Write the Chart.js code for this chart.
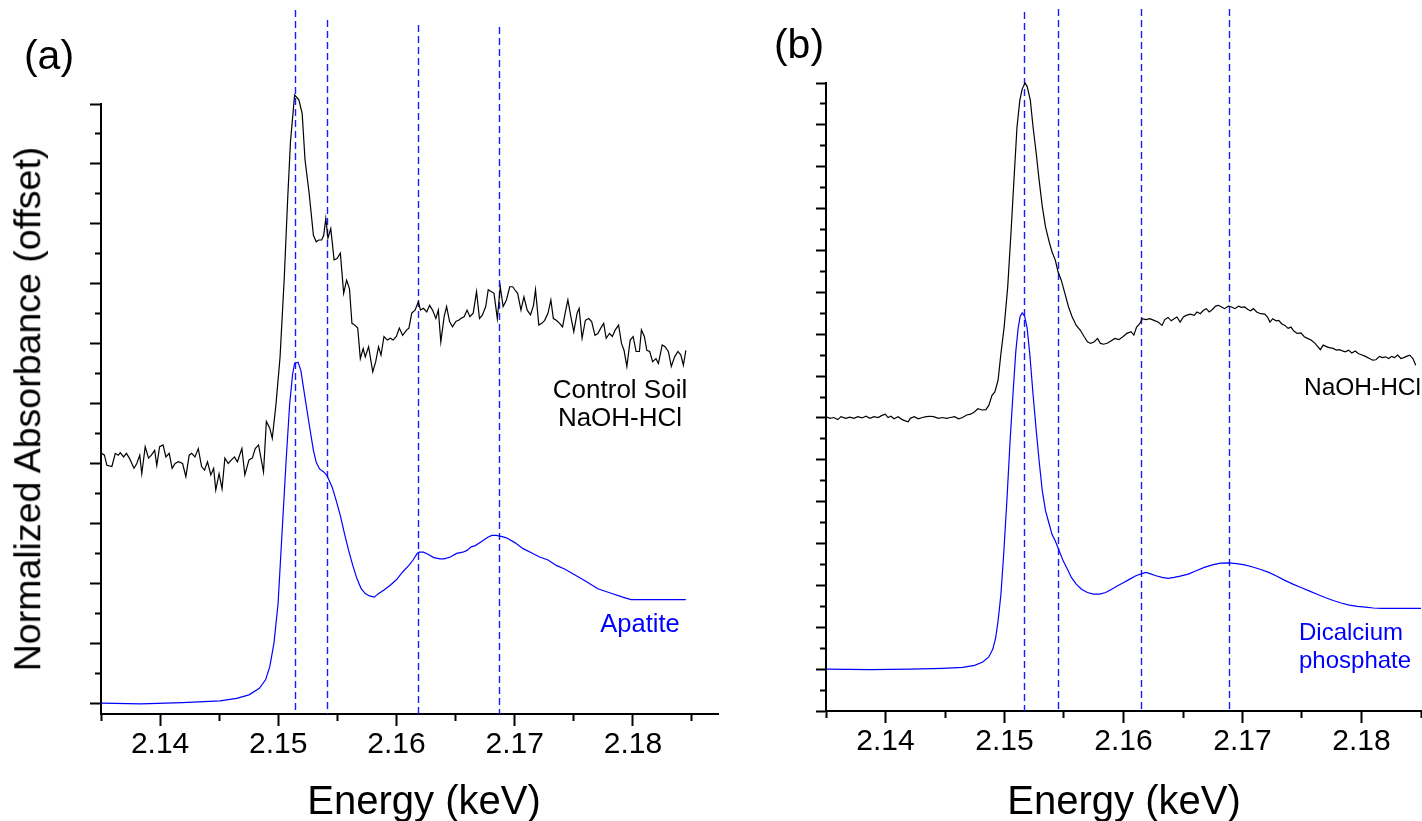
<!DOCTYPE html>
<html>
<head>
<meta charset="utf-8">
<script src="https://cdn.jsdelivr.net/npm/chart.js@4.4.1/dist/chart.umd.min.js"></script>
<style>
  html, body { margin: 0; padding: 0; background: #fff; }
  #wrap { position: relative; width: 1422px; height: 821px; overflow: hidden; }
  canvas { position: absolute; top: 0; }
  #chartA { left: 0; }
  #chartB { left: 720px; }
  .lbl {
    position: absolute;
    font-family: 'Liberation Sans', Arial, sans-serif;
    line-height: 1;
    white-space: nowrap;
    color: #000;
    transform: translate(-50%, -50%);
  }
  .blue { color: #0000ff; }
</style>
</head>
<body>
<div id="wrap">
  <canvas id="chartA" width="720" height="821"></canvas>
  <canvas id="chartB" width="702" height="821"></canvas>

  <div class="lbl" style="left:49px;top:55px;font-size:41px">(a)</div>
  <div class="lbl" style="left:799px;top:44px;font-size:41px">(b)</div>

  <div class="lbl" style="left:28px;top:409px;font-size:37.5px;transform:translate(-50%,-50%) rotate(-90deg)">Normalized Absorbance (offset)</div>
  <div class="lbl" style="left:424px;top:800px;font-size:40px">Energy (keV)</div>
  <div class="lbl" style="left:1124px;top:800px;font-size:40px">Energy (keV)</div>

  <div class="lbl" style="left:620px;top:389px;font-size:26px">Control Soil</div>
  <div class="lbl" style="left:620px;top:417px;font-size:26px">NaOH-HCl</div>
  <div class="lbl blue" style="left:640px;top:624px;font-size:25.5px">Apatite</div>

  <div class="lbl" style="left:1421px;top:387px;font-size:24.5px;transform:translate(-100%,-50%)">NaOH-HCl</div>
  <div class="lbl blue" style="left:1299px;top:632px;font-size:24px;transform:translate(0,-50%)">Dicalcium</div>
  <div class="lbl blue" style="left:1299px;top:660px;font-size:24px;transform:translate(0,-50%)">phosphate</div>
</div>

<script>
// ── (a) Control soil NaOH-HCl extract (offset +4) ──
const soilAEnergy = [2.13505,2.13529,2.13550,2.13592,2.13621,2.13645,2.13663,2.13691,2.13715,2.13740,
  2.13779,2.13803,2.13828,2.13845,2.13874,2.13902,2.13926,2.13954,2.13972,2.13996,
  2.14025,2.14049,2.14077,2.14102,2.14127,2.14155,2.14190,2.14218,2.14246,2.14267,
  2.14295,2.14323,2.14351,2.14376,2.14401,2.14429,2.14453,2.14471,2.14499,2.14524,
  2.14548,2.14576,2.14604,2.14629,2.14654,2.14692,2.14717,2.14752,2.14780,2.14805,
  2.14833,2.14875,2.14899,2.14928,2.14949,2.14980,2.15015,2.15051,2.15079,2.15103,
  2.15138,2.15174,2.15202,2.15226,2.15261,2.15297,2.15321,2.15342,2.15367,2.15384,
  2.15402,2.15420,2.15444,2.15472,2.15497,2.15525,2.15553,2.15578,2.15602,2.15623,
  2.15648,2.15672,2.15694,2.15718,2.15736,2.15764,2.15799,2.15824,2.15848,2.15869,
  2.15894,2.15922,2.15947,2.15971,2.15999,2.16024,2.16052,2.16087,2.16105,2.16129,
  2.16157,2.16185,2.16203,2.16228,2.16256,2.16280,2.16305,2.16333,2.16354,2.16375,
  2.16403,2.16424,2.16449,2.16474,2.16502,2.16526,2.16544,2.16572,2.16597,2.16621,
  2.16649,2.16677,2.16702,2.16727,2.16755,2.16776,2.16800,2.16825,2.16853,2.16878,
  2.16902,2.16930,2.16958,2.16983,2.17001,2.17025,2.17053,2.17078,2.17106,2.17134,
  2.17159,2.17176,2.17204,2.17229,2.17254,2.17282,2.17306,2.17327,2.17352,2.17380,
  2.17405,2.17429,2.17450,2.17475,2.17500,2.17528,2.17545,2.17570,2.17598,2.17626,
  2.17651,2.17679,2.17703,2.17728,2.17753,2.17774,2.17802,2.17826,2.17851,2.17879,
  2.17904,2.17925,2.17949,2.17977,2.18002,2.18027,2.18055,2.18072,2.18097,2.18118,
  2.18142,2.18167,2.18195,2.18216,2.18248,2.18272,2.18300,2.18325,2.18353,2.18381,
  2.18406,2.18427,2.18448];
const soilAValue = [4.17,4.14,3.97,3.95,4.17,4.14,4.18,4.11,4.17,4.09,
  3.92,4.00,4.14,3.83,4.28,4.09,4.14,4.22,3.97,4.28,
  4.31,4.11,4.17,3.92,4.00,4.03,4.00,3.78,4.14,4.17,
  4.11,4.25,3.95,3.89,4.03,3.81,3.92,3.56,3.83,3.58,
  4.09,4.00,4.06,4.11,4.03,4.25,3.81,4.06,4.09,4.25,
  4.31,3.86,4.70,4.59,4.42,4.98,5.78,7.12,8.40,9.37,
  10.15,10.07,9.84,9.07,8.51,7.81,7.70,7.73,7.73,7.81,
  8.09,7.76,7.92,7.40,7.42,7.51,6.84,7.06,6.92,6.34,
  6.31,6.26,5.75,5.92,5.78,5.95,5.53,5.70,5.95,5.81,
  6.12,6.06,6.09,6.06,6.12,6.26,6.14,6.23,6.26,6.51,
  6.56,6.70,6.56,6.59,6.53,6.64,6.56,6.42,6.56,6.03,
  6.45,6.62,6.37,6.28,6.37,6.39,6.42,6.45,6.56,6.45,
  6.51,6.87,6.42,6.48,6.62,6.90,6.87,6.84,6.42,6.95,
  6.62,6.73,6.95,6.95,6.90,6.84,6.56,6.78,6.56,6.48,
  6.64,6.90,6.31,6.34,6.39,6.51,6.73,6.42,6.39,6.34,
  6.28,6.53,6.73,6.45,6.20,6.51,6.59,6.09,6.39,6.42,
  6.37,6.14,6.17,6.26,6.34,6.09,6.17,6.12,6.23,6.31,
  6.00,5.89,5.62,6.06,6.12,5.87,5.87,6.23,6.12,5.89,
  5.87,5.70,5.75,5.67,5.98,5.95,5.87,5.62,5.78,5.87,
  5.81,5.64,5.89];

// ── (a) Apatite reference ──
const apatiteEnergy = [2.13505,2.13838,2.14190,2.14506,2.14647,2.14752,2.14840,2.14892,2.14928,2.14963,
  2.14998,2.15033,2.15068,2.15096,2.15121,2.15138,2.15167,2.15191,2.15226,2.15261,
  2.15297,2.15321,2.15349,2.15384,2.15412,2.15455,2.15490,2.15525,2.15560,2.15595,
  2.15630,2.15665,2.15701,2.15736,2.15771,2.15813,2.15841,2.15894,2.15947,2.15999,
  2.16052,2.16105,2.16140,2.16175,2.16192,2.16228,2.16263,2.16315,2.16368,2.16403,
  2.16456,2.16509,2.16561,2.16597,2.16632,2.16667,2.16720,2.16772,2.16807,2.16843,
  2.16895,2.16930,2.17001,2.17071,2.17141,2.17211,2.17282,2.17352,2.17422,2.17492,
  2.17598,2.17703,2.17809,2.17914,2.17984,2.18230,2.18448];
const apatiteValue = [0,-0.01,0.01,0.04,0.08,0.14,0.25,0.39,0.61,1.00,
  1.66,2.89,4.11,4.99,5.49,5.67,5.69,5.55,5.10,4.66,
  4.22,4.02,3.91,3.86,3.80,3.61,3.38,3.13,2.83,2.55,
  2.30,2.08,1.91,1.83,1.79,1.77,1.82,1.89,1.97,2.06,
  2.19,2.30,2.39,2.50,2.52,2.52,2.49,2.43,2.41,2.41,
  2.44,2.50,2.52,2.55,2.61,2.63,2.70,2.77,2.80,2.80,
  2.78,2.76,2.68,2.58,2.51,2.44,2.39,2.30,2.24,2.16,
  2.04,1.91,1.84,1.77,1.73,1.73,1.73];

// ── (b) NaOH-HCl extract (offset +6) ──
const naohEnergy = [2.13504,2.13531,2.13565,2.13599,2.13626,2.13666,2.13700,2.13734,2.13768,2.13802,
  2.13836,2.13869,2.13903,2.13937,2.13971,2.13998,2.14022,2.14045,2.14072,2.14106,
  2.14140,2.14167,2.14191,2.14208,2.14242,2.14276,2.14309,2.14343,2.14370,2.14404,
  2.14445,2.14479,2.14512,2.14546,2.14580,2.14614,2.14648,2.14682,2.14716,2.14749,
  2.14777,2.14810,2.14844,2.14868,2.14895,2.14919,2.14946,2.14970,2.14997,2.15027,
  2.15054,2.15081,2.15105,2.15129,2.15149,2.15173,2.15190,2.15217,2.15240,2.15267,
  2.15291,2.15318,2.15345,2.15376,2.15399,2.15427,2.15450,2.15477,2.15508,2.15538,
  2.15569,2.15603,2.15636,2.15670,2.15697,2.15724,2.15755,2.15782,2.15806,2.15833,
  2.15867,2.15894,2.15928,2.15961,2.15995,2.16029,2.16063,2.16087,2.16110,2.16137,
  2.16158,2.16188,2.16222,2.16256,2.16290,2.16324,2.16347,2.16374,2.16401,2.16425,
  2.16449,2.16476,2.16503,2.16527,2.16561,2.16594,2.16618,2.16645,2.16672,2.16696,
  2.16720,2.16747,2.16774,2.16797,2.16825,2.16848,2.16882,2.16909,2.16936,2.16967,
  2.16990,2.17018,2.17045,2.17068,2.17092,2.17119,2.17153,2.17187,2.17210,2.17231,
  2.17254,2.17282,2.17305,2.17329,2.17356,2.17383,2.17407,2.17430,2.17458,2.17491,
  2.17519,2.17546,2.17576,2.17610,2.17634,2.17654,2.17678,2.17701,2.17728,2.17762,
  2.17789,2.17816,2.17840,2.17864,2.17891,2.17918,2.17948,2.17972,2.17999,2.18033,
  2.18067,2.18094,2.18121,2.18152,2.18175,2.18202,2.18229,2.18253,2.18277,2.18304,
  2.18331,2.18355,2.18378,2.18405,2.18432,2.18456];
const naohValue = [6.03,5.99,6.01,5.96,6.03,5.99,6.02,5.99,6.03,6.00,
  6.04,5.99,6.03,6.01,6.06,6.09,6.01,6.04,5.98,6.03,
  5.96,5.93,5.91,5.99,6.03,5.98,6.01,6.03,6.04,6.03,
  5.99,6.01,5.99,6.01,6.03,5.98,6.01,6.07,6.09,6.15,
  6.22,6.19,6.20,6.30,6.54,6.62,6.90,7.54,8.17,9.13,
  10.40,11.76,12.95,13.59,13.86,14.00,13.92,13.59,12.95,12.31,
  11.68,11.04,10.56,10.20,9.97,9.77,9.49,9.29,8.97,8.65,
  8.41,8.21,8.10,7.94,7.82,7.78,7.82,7.90,7.78,7.76,
  7.79,7.84,7.90,7.87,7.94,8.02,8.06,7.98,8.17,8.25,
  8.37,8.35,8.37,8.33,8.29,8.21,8.35,8.40,8.32,8.37,
  8.41,8.29,8.41,8.45,8.48,8.45,8.53,8.49,8.57,8.61,
  8.53,8.59,8.67,8.69,8.65,8.61,8.67,8.65,8.61,8.67,
  8.64,8.65,8.59,8.56,8.61,8.53,8.49,8.48,8.41,8.29,
  8.37,8.32,8.33,8.25,8.21,8.14,8.17,8.08,8.02,8.03,
  7.94,7.90,7.86,7.78,7.70,7.63,7.74,7.71,7.68,7.66,
  7.62,7.63,7.60,7.58,7.62,7.55,7.60,7.54,7.51,7.47,
  7.42,7.38,7.39,7.47,7.44,7.46,7.42,7.47,7.44,7.50,
  7.42,7.44,7.47,7.50,7.42,7.26];

// ── (b) Dicalcium phosphate reference ──
const dcpEnergy = [2.13504,2.13869,2.14208,2.14479,2.14648,2.14749,2.14817,2.14868,2.14902,2.14926,
  2.14946,2.14970,2.14993,2.15020,2.15047,2.15071,2.15095,2.15115,2.15132,2.15149,
  2.15169,2.15190,2.15213,2.15240,2.15267,2.15291,2.15318,2.15345,2.15376,2.15399,
  2.15427,2.15460,2.15494,2.15528,2.15562,2.15603,2.15647,2.15697,2.15748,2.15799,
  2.15850,2.15901,2.15951,2.16002,2.16053,2.16104,2.16154,2.16188,2.16222,2.16273,
  2.16324,2.16374,2.16425,2.16476,2.16544,2.16611,2.16679,2.16747,2.16815,2.16882,
  2.16950,2.17018,2.17086,2.17153,2.17221,2.17289,2.17356,2.17424,2.17491,2.17559,
  2.17627,2.17694,2.17762,2.17830,2.17897,2.17965,2.18033,2.18100,2.18168,2.18270,
  2.18405,2.18500];
const dcpValue = [0,-0.01,0,0.02,0.04,0.09,0.17,0.29,0.48,0.75,
  1.15,1.79,2.74,4.02,5.45,6.56,7.59,8.15,8.43,8.51,
  8.43,8.15,7.51,6.56,5.69,4.97,4.25,3.78,3.46,3.22,
  3.06,2.82,2.58,2.39,2.19,2.03,1.91,1.83,1.79,1.79,
  1.83,1.91,1.99,2.07,2.15,2.23,2.28,2.31,2.28,2.23,
  2.19,2.17,2.19,2.22,2.27,2.35,2.43,2.49,2.53,2.54,
  2.52,2.49,2.44,2.38,2.31,2.22,2.12,2.03,1.95,1.87,
  1.79,1.71,1.64,1.58,1.53,1.50,1.48,1.46,1.45,1.45,
  1.45,1.45];

// peak positions marked with dashed lines (keV)
const peaksA = [2.1514, 2.1541, 2.1618, 2.1687];
const peaksB = [2.1516, 2.1545, 2.1615, 2.1689];

// ═══════════════════════════════════════════════
//  helpers
// ═══════════════════════════════════════════════

const toPoints = (xs, ys) => xs.map((x, i) => ({ x, y: ys[i] }));

const isMinorX = (v) => Math.round(v * 1000) % 10 !== 0;
const isMinorY = (v) => Math.abs(v - Math.round(v)) > 0.01;

// dashed vertical lines, they run above the plot frame like in the figure
const peakLines = {
  id: 'peakLines',
  beforeDatasetsDraw(chart, args, opts) {
    const { ctx, chartArea, scales: { x } } = chart;
    ctx.save();
    ctx.strokeStyle = opts.color;
    ctx.lineWidth = opts.width;
    ctx.setLineDash(opts.dash);
    opts.energies.forEach((e, i) => {
      const px = Math.round(x.getPixelForValue(e)) + 0.5;
      ctx.beginPath();
      ctx.moveTo(px, opts.tops[i]);
      ctx.lineTo(px, chartArea.bottom);
      ctx.stroke();
    });
    ctx.restore();
  }
};

const lineSet = (points, color) => ({
  data: points,
  borderColor: color,
  borderWidth: 1.2,
  pointRadius: 0,
  tension: 0,
  clip: false,
});

const makeChart = (id, cfg) => new Chart(document.getElementById(id), {
  type: 'line',
  data: { datasets: cfg.datasets },
  options: {
    responsive: false,
    animation: false,
    events: [],
    layout: { padding: { top: cfg.top, right: cfg.right, left: 0, bottom: 0 } },
    plugins: {
      legend: { display: false },
      tooltip: { enabled: false },
      peakLines: { energies: cfg.peaks, tops: cfg.peakTops, color: '#1a1aff', width: 1.4, dash: [7, 4] }
    },
    scales: {
      x: {
        type: 'linear',
        min: 2.135,
        max: cfg.xMax,
        afterFit: (s) => { s.height = cfg.xAxisH; },
        border: { color: '#000', width: 2 },
        grid: {
          drawOnChartArea: false,
          tickLength: 12,
          tickWidth: 2,
          tickColor: '#000',
          tickBorderDash: (c) => isMinorX(c.tick.value) ? [6, 100] : [],
        },
        ticks: {
          stepSize: 0.005,
          includeBounds: false,
          autoSkip: false,
          maxRotation: 0,
          minRotation: 0,
          padding: 1,
          color: '#000',
          font: { family: "'Liberation Sans', Arial, sans-serif", size: 30 },
          callback: (v) => isMinorX(v) ? '' : v.toFixed(2),
        }
      },
      y: {
        type: 'linear',
        min: cfg.yMin,
        max: cfg.yMax,
        afterFit: (s) => { s.width = cfg.yAxisW; },
        border: { color: '#000', width: 2 },
        grid: {
          drawOnChartArea: false,
          tickLength: cfg.yTick,
          tickWidth: 2,
          tickColor: '#000',
          tickBorderDash: (c) => isMinorY(c.tick.value) ? [0, cfg.yTick - 6, 5, 100] : [],
        },
        ticks: {
          stepSize: 0.5,
          includeBounds: false,
          autoSkip: false,
          display: false,
        }
      }
    }
  },
  plugins: [peakLines]
});

// ═══════════════════════════════════════════════
//  panels
// ═══════════════════════════════════════════════

makeChart('chartA', {
  datasets: [
    lineSet(toPoints(soilAEnergy, soilAValue), '#000'),
    lineSet(toPoints(apatiteEnergy, apatiteValue), '#0000ff'),
  ],
  peaks: peaksA,
  peakTops: [10, 20, 25, 27],
  xMax: 2.1872,
  yMin: -0.18,
  yMax: 10,
  yTick: 11,
  yAxisW: 101,
  xAxisH: 107,
  top: 104,
  right: 2,
});

makeChart('chartB', {
  datasets: [
    lineSet(toPoints(naohEnergy, naohValue), '#000'),
    lineSet(toPoints(dcpEnergy, dcpValue), '#0000ff'),
  ],
  peaks: peaksB,
  peakTops: [12, 9, 9, 9],
  xMax: 2.185,
  yMin: -1,
  yMax: 14,
  yTick: 10,
  yAxisW: 106,
  xAxisH: 110,
  top: 83,
  right: 0,
});
</script>
</body>
</html>
